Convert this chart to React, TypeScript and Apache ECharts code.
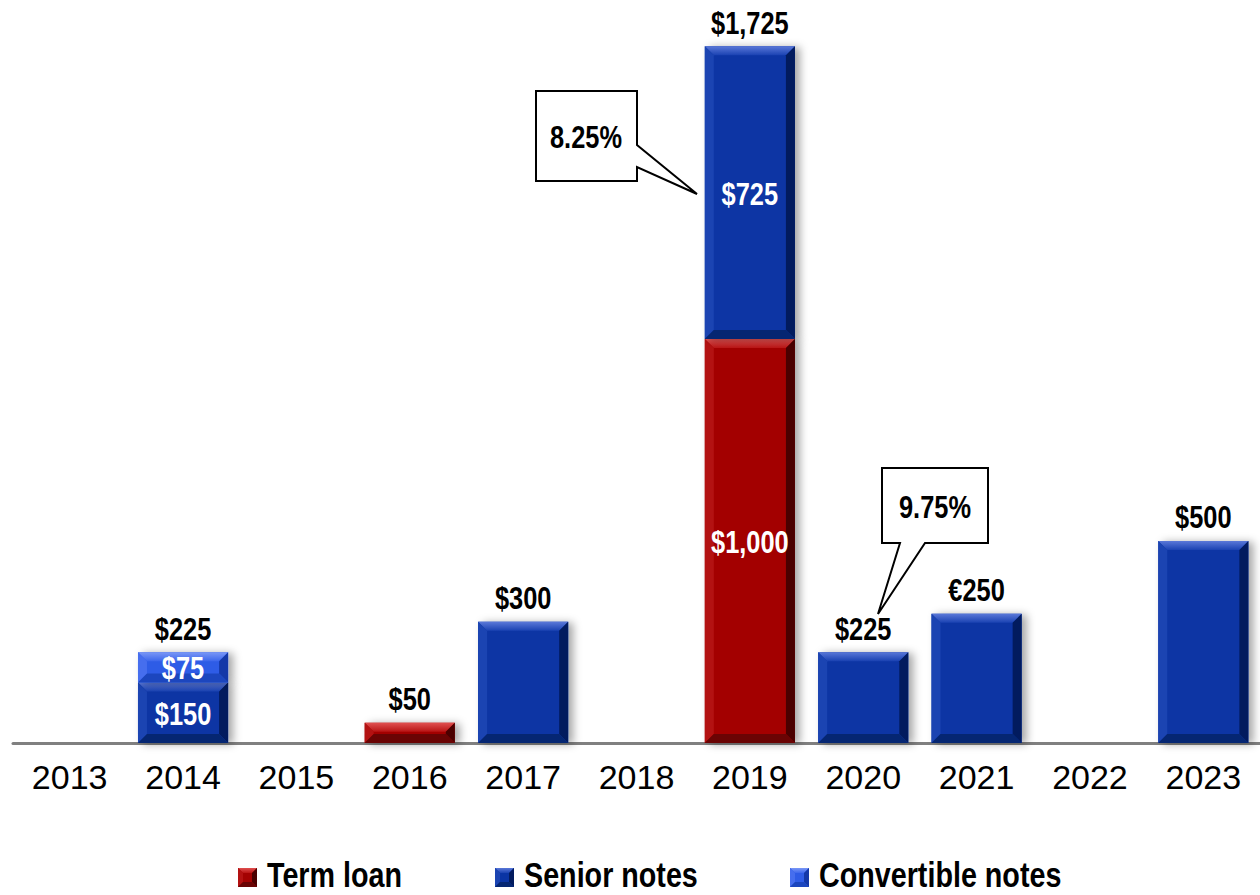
import React, { useEffect, useRef } from "react";
import * as echarts from "echarts";

const years = ["2013", "2014", "2015", "2016", "2017", "2018", "2019", "2020", "2021", "2022", "2023"];
const termLoan = [0, 0, 0, 50, 0, 0, 1000, 0, 0, 0, 0];
const seniorNotes = [0, 150, 0, 0, 300, 0, 725, 225, 320, 0, 500];
const convertibleNotes = [0, 75, 0, 0, 0, 0, 0, 0, 0, 0, 0];
const termLoanLabels = ["", "", "", "", "", "", "$1,000", "", "", "", ""];
const seniorLabels = ["", "$150", "", "", "", "", "$725", "", "", "", ""];
const convertibleLabels = ["", "$75", "", "", "", "", "", "", "", "", ""];
const totalLabels = ["", "$225", "", "$50", "$300", "", "$1,725", "$225", "€250", "", "$500"];
const legendNames = ["Term loan", "Senior notes", "Convertible notes"];
const callouts = ["8.25%", "9.75%"];

const FONT = '"Liberation Sans", Arial, sans-serif';
const SX = 0.82;

type Pal = { face: string; top1: string; top2: string; left: string; right: string; bottom: string };
const palTerm: Pal = { face: "#a30202", top1: "#e05050", top2: "#b81414", left: "#b31212", right: "#4a0000", bottom: "#6a0404" };
const palSenior: Pal = { face: "#0a34a4", top1: "#5a78d8", top2: "#1a42b2", left: "#1b44b2", right: "#021b5e", bottom: "#052672" };
const palConv: Pal = { face: "#2f5ce6", top1: "#7b98f6", top2: "#3d67ec", left: "#466eee", right: "#1438a8", bottom: "#1c46be" };
const pals = [palTerm, palSenior, palConv];

function bevel(pal: Pal, x: number, y: number, w: number, h: number, b: number, shadow: boolean) {
  return [
    {
      type: "rect",
      shape: { x, y, width: w, height: h },
      style: shadow
        ? { fill: pal.face, shadowBlur: 8, shadowColor: "rgba(0,0,0,0.35)", shadowOffsetX: 5, shadowOffsetY: 1 }
        : { fill: pal.face },
    },
    {
      type: "polygon",
      shape: { points: [[x, y], [x + w, y], [x + w - b, y + b], [x + b, y + b]] },
      style: {
        fill: new echarts.graphic.LinearGradient(0, 0, 0, 1, [
          { offset: 0, color: pal.top1 },
          { offset: 1, color: pal.top2 },
        ]),
      },
    },
    { type: "polygon", shape: { points: [[x, y], [x + b, y + b], [x + b, y + h - b], [x, y + h]] }, style: { fill: pal.left } },
    { type: "polygon", shape: { points: [[x + w, y], [x + w, y + h], [x + w - b, y + h - b], [x + w - b, y + b]] }, style: { fill: pal.right } },
    { type: "polygon", shape: { points: [[x, y + h], [x + b, y + h - b], [x + w - b, y + h - b], [x + w, y + h]] }, style: { fill: pal.bottom } },
  ];
}

function txt(text: string, x: number, y: number, size: number, color: string, align: string, vAlign: string, bold = true) {
  return {
    type: "text",
    x,
    y,
    scaleX: SX,
    style: {
      text,
      x: 0,
      y: 0,
      fill: color,
      fontFamily: FONT,
      fontSize: size,
      fontWeight: bold ? "bold" : "normal",
      align,
      verticalAlign: vAlign,
    },
  };
}

function makeRender(pal: Pal, labels: string[]) {
  return (params: any, api: any) => {
    const cat = api.value(0);
    const base = api.value(1);
    const val = api.value(2);
    if (!val) return null;
    const p1 = api.coord([cat, base + val]);
    const p0 = api.coord([cat, base]);
    const w = api.size([1, 0])[0] * 0.795;
    const x = p0[0] - w / 2;
    const y = p1[1];
    const h = p0[1] - p1[1];
    const b = Math.min(9, h / 2.2);
    const children: any[] = bevel(pal, x, y, w, h, b, true);
    const lab = labels[params.dataIndex];
    if (lab) children.push(txt(lab, p0[0], y + h / 2 + 1, 31, "#ffffff", "center", "middle"));
    return { type: "group", children };
  };
}

export default function App() {
  const ref = useRef<HTMLDivElement>(null);
  useEffect(() => {
    document.body.style.margin = "0";
    const chart = echarts.init(ref.current!, null, { renderer: "svg" });
    const termData = years.map((_, i) => [i, 0, termLoan[i]]);
    const seniorData = years.map((_, i) => [i, termLoan[i], seniorNotes[i]]);
    const convData = years.map((_, i) => [i, termLoan[i] + seniorNotes[i], convertibleNotes[i]]);
    const totals = years.map((_, i) => [i, termLoan[i] + seniorNotes[i] + convertibleNotes[i]]);

    const callout = (pts: number[][], tx: number, ty: number, text: string) => ({
      type: "group",
      children: [
        { type: "polygon", shape: { points: pts }, style: { fill: "#ffffff", stroke: "#000000", lineWidth: 2 } },
        txt(text, tx, ty, 31, "#000", "center", "middle"),
      ],
    });

    const legendX = [238, 495, 790];
    const legendItems = legendNames.map((name, i) => ({
      type: "group",
      children: [
        ...bevel(pals[i], legendX[i], 868, 19, 19, 5, false),
        txt(name, legendX[i] + 29, 875, 35, "#000", "left", "middle"),
      ],
    }));

    chart.setOption({
      animation: false,
      backgroundColor: "#ffffff",
      grid: { left: 13, right: 0, top: 16, bottom: 152, containLabel: false },
      xAxis: {
        type: "category",
        data: years,
        axisLine: { lineStyle: { color: "#808080", width: 3 } },
        axisTick: { show: false },
        axisLabel: { color: "#000", fontFamily: FONT, fontSize: 34, margin: 17 },
      },
      yAxis: { type: "value", min: 0, max: 1800, show: false, splitLine: { show: false } },
      series: [
        { name: legendNames[0], type: "custom", renderItem: makeRender(palTerm, termLoanLabels), data: termData, itemStyle: { color: palTerm.face }, encode: { x: 0, y: 2 } },
        { name: legendNames[1], type: "custom", renderItem: makeRender(palSenior, seniorLabels), data: seniorData, itemStyle: { color: palSenior.face }, encode: { x: 0, y: 2 } },
        { name: legendNames[2], type: "custom", renderItem: makeRender(palConv, convertibleLabels), data: convData, itemStyle: { color: palConv.face }, encode: { x: 0, y: 2 } },
        {
          name: "Totals",
          type: "custom",
          data: totals,
          encode: { x: 0, y: 1 },
          renderItem: (params: any, api: any) => {
            const lab = totalLabels[params.dataIndex];
            if (!lab) return null;
            const p = api.coord([api.value(0), api.value(1)]);
            return txt(lab, p[0], p[1] - 8, 31, "#000", "center", "bottom");
          },
        },
      ],
      graphic: [
        callout([[536, 91], [637, 91], [637, 145], [697, 194], [637, 167], [637, 181], [536, 181]], 586, 137, callouts[0]),
        callout([[882, 468], [988, 468], [988, 543], [925, 543], [878, 614], [900, 543], [882, 543]], 935, 507, callouts[1]),
        ...legendItems,
      ],
    });
    return () => chart.dispose();
  }, []);
  return <div ref={ref} style={{ width: 1260, height: 895 }} />;
}
